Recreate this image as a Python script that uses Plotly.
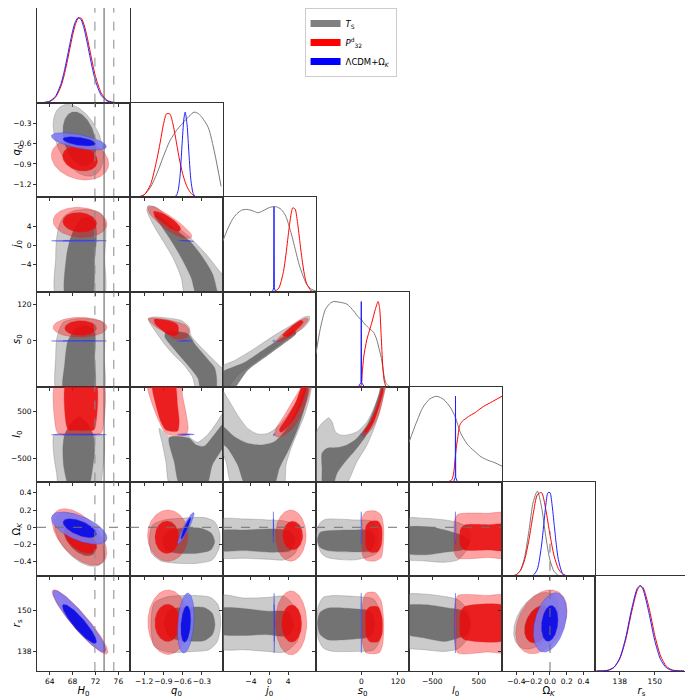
#!/usr/bin/env python3
"""
Triangle plot: T_S vs P^d_32 vs LCDM+Omega_K
Filled 68/95% regions off-diagonal, 1D marginals on the diagonal.
"""
import numpy as np
import plotly.graph_objects as go
from plotly.subplots import make_subplots

# === Parameters / axes ===
param_labels = ["<i>H</i><sub>0</sub>", "<i>q</i><sub>0</sub>", "<i>j</i><sub>0</sub>",
                "<i>s</i><sub>0</sub>", "<i>l</i><sub>0</sub>", "Ω<sub><i>K</i></sub>",
                "<i>r</i><sub>s</sub>"]
x_limits = [[61.78, 78.03], [-1.42, 0.03], [-10, 10], [-148, 156],
            [-1000, 1000], [-0.571, 0.536], [129.5, 161.4]]
y_limits = [[0, 1.11], [-1.394, 0.005], [-9.9, 10.2], [-149.2, 158.6],
            [-985, 1012], [-0.567, 0.529], [132.05, 160.3]]
tick_vals = [[64, 68, 72, 76], [-1.2, -0.9, -0.6, -0.3], [-4, 0, 4], [0, 120],
             [-500, 500], [-0.4, -0.2, 0, 0.2, 0.4], [138, 150]]
x_tick_text = [["64", "68", "72", "76"], ["−1.2", "−0.9", "−0.6", "−0.3"], ["−4", "0", "4"],
               ["0", "120"], ["−500", "500"], ["−0.4", "−0.2", "0.0", "0.2", "0.4"], ["138", "150"]]
y_tick_text = [[], ["−1.2", "−0.9", "−0.6", "−0.3"], ["−4", "0", "4"], ["0", "120"],
               ["−500", "500"], ["−0.4", "−0.2", "0", "0.2", "0.4"], ["138", "150"]]

# reference lines
H0_band = [71.9, 75.2]
H0_line = [73.5]
OmK_zero = [0.0]

# === 1D marginals (normalised to peak) ===
H0_x = [62, 63, 64, 65, 66, 66.5, 67, 67.5, 68, 68.5, 69, 69.5, 70, 70.5, 71, 71.5, 72, 73, 74, 75, 76, 77]
H0_red = [0.0003, 0.0025, 0.014, 0.062, 0.198, 0.314, 0.461, 0.627, 0.789, 0.919, 0.991, 0.99,
          0.915, 0.783, 0.62, 0.455, 0.309, 0.113, 0.03, 0.006, 0.001, 0.0]
H0_blue = [0.0004, 0.003, 0.018, 0.074, 0.228, 0.356, 0.512, 0.681, 0.838, 0.952, 0.999, 0.97,
           0.87, 0.721, 0.552, 0.391, 0.256, 0.086, 0.021, 0.004, 0.0005, 0.0]

q0_x = [-1.4, -1.3, -1.2, -1.1, -1.0, -0.95, -0.9, -0.85, -0.8, -0.75, -0.7, -0.65, -0.6,
        -0.55, -0.5, -0.45, -0.4, -0.35, -0.3, -0.2, -0.1, 0.0]
q0_red = [0.0, 0.003, 0.03, 0.15, 0.45, 0.64, 0.85, 0.98, 0.98, 0.86, 0.66, 0.45, 0.28,
          0.16, 0.08, 0.035, 0.012, 0.003, 0.0, 0.0, 0.0, 0.0]
q0_gray_x = [-1.4, -1.3, -1.2, -1.1, -1.0, -0.9, -0.8, -0.7, -0.6, -0.5, -0.42, -0.35, -0.3, -0.2, -0.1, 0.0]
q0_gray = [0.0, 0.005, 0.03, 0.12, 0.28, 0.48, 0.66, 0.78, 0.87, 0.95, 1.0, 0.98, 0.94, 0.82, 0.52, 0.13]
q0_blue_x = [-0.75, -0.7, -0.67, -0.64, -0.61, -0.58, -0.56, -0.53, -0.5, -0.47, -0.44, -0.41, -0.38]
q0_blue = [0.0, 0.02, 0.08, 0.25, 0.6, 0.92, 1.0, 0.85, 0.5, 0.2, 0.06, 0.01, 0.0]

j0_gray_x = [-10.1, -9, -8, -7, -6, -5, -4, -3, -2.5, -1.5, -0.5, 0.5, 1.5, 2.5, 3.5, 4.5, 5.0, 5.5, 6.5, 7.5, 8, 9, 10]
j0_gray = [0.59, 0.74, 0.85, 0.92, 0.96, 0.97, 0.96, 0.94, 0.93, 0.95, 0.98, 1.0, 1.0, 0.97, 0.89,
           0.72, 0.62, 0.51, 0.30, 0.15, 0.09, 0.035, 0.012]
j0_red_x = [-2, 0, 1, 2, 3, 3.5, 4, 4.5, 5, 5.5, 6, 6.5, 7, 7.5, 8, 9, 10]
j0_red = [0.0, 0.0, 0.005, 0.048, 0.24, 0.425, 0.653, 0.865, 0.988, 0.974, 0.827, 0.607, 0.384,
          0.209, 0.098, 0.014, 0.001]
j0_blue_x = [0.6, 0.9, 0.97, 1.04, 1.34]
j0_blue = [0.0, 0.05, 1.0, 0.05, 0.0]

s0_gray_x = [-148, -134, -117, -100, -90, -68, -47, -25, -8, 0, 8, 24, 40, 50, 60, 66, 73, 80, 90, 100, 156]
s0_gray = [0.39, 0.68, 0.91, 0.985, 1.0, 0.99, 0.97, 0.89, 0.81, 0.79, 0.75, 0.69, 0.64, 0.56,
           0.42, 0.33, 0.16, 0.05, 0.01, 0.0, 0.0]
s0_red_x = [-5, 0, 3, 8, 18, 35, 46, 55, 60, 65, 70, 75, 80, 85]
s0_red = [0.0, 0.02, 0.15, 0.35, 0.55, 0.76, 0.91, 1.0, 0.92, 0.6, 0.26, 0.07, 0.01, 0.0]
s0_blue_x = [-10, -1, 0, 1, 10]
s0_blue = [0.0, 0.05, 1.0, 0.05, 0.0]

l0_gray_x = [-1000, -850, -700, -550, -400, -250, -100, 0, 100, 250, 400, 550, 700, 850, 1000]
l0_gray = [0.46, 0.68, 0.87, 0.97, 1.0, 0.96, 0.86, 0.75, 0.58, 0.44, 0.36, 0.29, 0.25, 0.22, 0.18]
l0_red_x = [-150, -80, -40, 0, 20, 50, 75, 100, 150, 200, 300, 400, 500, 600, 700, 800, 900, 1000]
l0_red = [0.0, 0.02, 0.1, 0.31, 0.41, 0.52, 0.62, 0.67, 0.71, 0.73, 0.77, 0.8, 0.84, 0.88, 0.91, 0.94, 0.97, 1.0]
l0_blue_x = [-40, -4, 0, 4, 40]
l0_blue = [0.0, 0.05, 1.0, 0.05, 0.0]

OmK_x = [-0.55, -0.5, -0.45, -0.4, -0.35, -0.3, -0.25, -0.2, -0.15, -0.1, -0.05, 0.0, 0.05, 0.1,
         0.15, 0.2, 0.25, 0.3, 0.4, 0.5]
OmK_gray = [0.0, 0.0003, 0.0024, 0.016, 0.072, 0.233, 0.535, 0.869, 0.998, 0.811, 0.466, 0.19,
            0.055, 0.011, 0.0016, 0.0, 0.0, 0.0, 0.0, 0.0]
OmK_red = [0.0001, 0.0007, 0.0043, 0.02, 0.071, 0.198, 0.43, 0.726, 0.956, 0.98, 0.783, 0.487,
           0.236, 0.089, 0.026, 0.006, 0.001, 0.0, 0.0, 0.0]
OmK_blue_x = [-0.3, -0.25, -0.2, -0.15, -0.1, -0.075, -0.05, -0.025, 0.0, 0.025, 0.05, 0.075,
              0.1, 0.15, 0.2, 0.25, 0.3]
OmK_blue = [0.0, 0.0006, 0.01, 0.084, 0.366, 0.597, 0.829, 0.978, 0.981, 0.837, 0.607, 0.374,
            0.196, 0.033, 0.003, 0.0, 0.0]

rs_x = [130, 132, 134, 136, 138, 140, 142, 144, 145, 146, 148, 150, 152, 154, 156, 158, 160]
rs_red = [0.0002, 0.0014, 0.009, 0.042, 0.143, 0.362, 0.68, 0.947, 0.998, 0.976, 0.745, 0.42,
          0.176, 0.054, 0.0125, 0.002, 0.0003]
rs_blue = [0.0001, 0.0014, 0.009, 0.043, 0.151, 0.386, 0.716, 0.968, 1.0, 0.953, 0.683, 0.356,
           0.135, 0.037, 0.0075, 0.001, 0.0]

# === 2D credible regions ===
# ("E", cx, cy, rx, ry, rho) ellipse, ("P", [(x, y), ...]) outline
q0_H0 = {
    "g95": ("E", 69.0, -0.55, 4.4, 0.53, -0.42), "g68": ("E", 69.2, -0.53, 2.9, 0.40, -0.3),
    "r95": ("E", 69.3, -0.836, 5.0, 0.30, -0.2), "r68": ("E", 69.3, -0.82, 3.05, 0.185, -0.2),
    "b95": ("E", 69.1, -0.566, 4.8, 0.128, -0.6), "b68": ("E", 69.15, -0.566, 2.85, 0.07, -0.5),
}
j0_H0 = {
    "g95": ("P", [(65.16, -11), (65.05, -2.55), (65.16, 0.99), (65.6, 4.0), (66.6, 6.3), (68.4, 7.4),
                  (71.0, 7.6), (73.0, 6.8), (73.78, 4.5), (73.78, 0.99), (73.6, -2.55), (73.43, -11)]),
    "g68": ("P", [(66.8, -11), (66.91, -2.55), (67.5, 0.99), (68.3, 3.5), (69.5, 5.6), (71.0, 5.9),
                  (72.0, 4.5), (72.15, 0.99), (71.86, -2.55), (71.3, -11)]),
    "r95": ("E", 69.3, 4.9, 4.7, 3.2, -0.1), "r68": ("E", 69.25, 4.9, 2.95, 2.1, -0.1),
    "b95": ("E", 69.1, 1.0, 4.8, 0.15, 0.0), "b68": ("E", 69.15, 1.0, 2.85, 0.07, 0.0),
}
s0_H0 = {
    "g95": ("P", [(65.28, -165), (65.05, -53), (65.28, 11.9), (66.33, 60), (68.37, 71.4), (71.28, 71.4),
                  (73.2, 62), (73.61, 33.5), (73.55, -53), (73.32, -165)]),
    "g68": ("P", [(66.45, -165), (66.62, -74.6), (67.2, 1.1), (68.6, 40), (70.4, 49), (71.8, 35),
                  (71.86, -53), (71.69, -165)]),
    "r95": ("E", 69.3, 44.3, 4.7, 32.4, 0.0), "r68": ("E", 69.4, 41.6, 2.77, 24.3, 0.0),
    "b95": ("E", 69.1, 0.0, 4.8, 1.6, 0.0), "b68": ("E", 69.15, 0.0, 2.85, 0.8, 0.0),
}
l0_H0 = {
    "g95": ("P", [(64.75, 0), (67.0, 20), (72.0, 20), (73.4, 0), (73.55, -400), (73.2, -800),
                  (72.7, -1100), (65.7, -1100), (65.2, -800), (64.7, -400)]),
    "g68": ("P", [(67.5, -1100), (66.5, -700), (66.3, -300), (66.6, 0), (67.8, 250), (69.2, 380),
                  (70.5, 250), (71.6, 0), (71.86, -300), (71.5, -700), (70.7, -1100)]),
    "r95": ("P", [(65.05, 1100), (65.05, 150), (65.4, 40), (66.2, 5), (72.2, 5), (73.0, 40),
                  (73.32, 150), (73.32, 1100)]),
    "r68": ("P", [(66.91, 1100), (66.91, 200), (67.3, 100), (68.0, 90), (71.0, 90), (71.7, 100),
                  (72.03, 200), (72.03, 1100)]),
    "b95": ("E", 69.1, 3, 4.8, 12, 0.0), "b68": ("E", 69.15, 3, 2.85, 6, 0.0),
}
OmK_H0 = {
    "g95": ("E", 69.24, -0.142, 4.37, 0.31, -0.55), "g68": ("E", 69.3, -0.14, 2.8, 0.19, -0.5),
    "r95": ("E", 69.2, -0.112, 4.77, 0.327, -0.55), "r68": ("E", 69.4, -0.14, 2.83, 0.163, -0.5),
    "b95": ("E", 69.15, -0.01, 4.85, 0.187, -0.6), "b68": ("E", 69.24, -0.01, 2.91, 0.11, -0.6),
}
rs_H0 = {
    "r95": ("E", 69.3, 146.7, 4.86, 9.6, -0.93), "r68": ("E", 69.2, 146.1, 2.97, 5.85, -0.9),
    "b95": ("E", 69.18, 146.9, 4.6, 9.2, -0.93), "b68": ("E", 69.2, 146.1, 2.97, 5.85, -0.9),
}
j0_q0 = {
    "g95": ("P", [(-1.14, 8.42), (-1.011, 8.07), (-0.70, 4.18), (-0.441, 1.13), (-0.234, -1.84),
                  (-0.027, -5.38), (0.05, -6.79), (0.05, -11), (-0.544, -11), (-0.622, -6.79),
                  (-0.752, -2.55), (-0.907, 0.99), (-1.062, 4.53), (-1.155, 7.36)]),
    "g68": ("P", [(-1.011, 6.65), (-0.752, 3.82), (-0.493, 0.99), (-0.286, -2.55), (-0.131, -6.09),
                  (-0.053, -10.1), (-0.027, -11), (-0.363, -11), (-0.467, -6.79), (-0.622, -2.55),
                  (-0.777, 0.99), (-0.933, 4.18), (-1.037, 6.3)]),
    "r95": ("P", [(-1.14, 8.07), (-1.062, 8.28), (-0.855, 6.79), (-0.622, 4.53), (-0.467, 2.41),
                  (-0.462, 1.70), (-0.596, 1.56), (-0.803, 2.97), (-0.985, 4.88), (-1.114, 6.79)]),
    "r68": ("P", [(-1.052, 7.22), (-0.907, 6.79), (-0.726, 5.24), (-0.632, 3.68), (-0.658, 2.97),
                  (-0.793, 3.68), (-0.933, 5.1), (-1.026, 6.09)]),
    "b95": ("E", -0.55, 0.99, 0.125, 0.14, -0.9), "b68": ("E", -0.55, 0.99, 0.07, 0.07, -0.9),
}
s0_q0 = {
    "g95": ("P", [(-1.135, 72.3), (-1.068, 77.7), (-0.886, 75.6), (-0.628, 66.9), (-0.498, 45.3),
                  (-0.472, 18.3), (-0.343, -14.0), (-0.162, -52), (-0.032, -79), (0.045, -95.1),
                  (0.045, -165), (-0.369, -165), (-0.446, -116.8), (-0.576, -79), (-0.731, -46.6),
                  (-0.886, -8.8), (-1.016, 29.1), (-1.119, 61.5)]),
    "g68": ("P", [(-0.86, 29.1), (-0.524, 23.7), (-0.395, -14.0), (-0.24, -52), (-0.1, -87.7),
                  (-0.069, -122.2), (-0.089, -165), (-0.307, -165), (-0.358, -122.2), (-0.472, -89.8),
                  (-0.628, -52), (-0.783, -14.0), (-0.876, 12.9)]),
    "r95": ("P", [(-1.135, 72.3), (-1.068, 74.5), (-0.783, 66.9), (-0.55, 50.7), (-0.498, 34.5),
                  (-0.524, 12.9), (-0.628, 5.3), (-0.731, 7.5), (-0.886, 29.1), (-1.016, 45.3),
                  (-1.104, 61.5)]),
    "r68": ("P", [(-1.042, 70.2), (-0.835, 66.9), (-0.679, 52.9), (-0.669, 23.7), (-0.731, 16.1),
                  (-0.845, 23.7), (-0.964, 42.1), (-1.031, 56.1)]),
    "b95": ("E", -0.568, 0.0, 0.122, 1.6, 0.0), "b68": ("E", -0.568, 0.0, 0.07, 0.8, 0.0),
}
l0_q0 = {
    "g95": ("P", [(-0.964, 136), (-0.809, -38), (-0.524, -3.5), (-0.472, -73), (-0.369, -157),
                  (-0.214, -3.5), (-0.059, 276), (0.045, 472), (0.045, -1100), (-0.783, -1100),
                  (-0.86, -563), (-0.912, -206)]),
    "g68": ("P", [(-0.809, -60), (-0.498, -73), (-0.395, -206), (-0.265, -241), (-0.11, -3.5),
                  (0.045, 241), (0.045, -206), (-0.136, -633), (-0.24, -1100), (-0.628, -1100),
                  (-0.731, -563)]),
    "r95": ("P", [(-1.145, 1100), (-1.068, 626), (-0.964, 276), (-0.886, 66), (-0.809, -3.5),
                  (-0.55, -3.5), (-0.514, 136), (-0.55, 486), (-0.602, 836), (-0.628, 1100)]),
    "r68": ("P", [(-1.068, 1100), (-1.016, 626), (-0.938, 276), (-0.86, 101), (-0.679, 80),
                  (-0.653, 276), (-0.679, 626), (-0.731, 1100)]),
    "b95": ("E", -0.55, 10, 0.13, 12, 0.0), "b68": ("E", -0.55, 10, 0.07, 6, 0.0),
}
OmK_q0 = {
    "g95": ("P", [(-1.119, -0.146), (-1.068, 0.027), (-0.886, 0.085), (-0.628, 0.104), (-0.265, 0.112),
                  (-0.1, 0.065), (-0.022, -0.069), (-0.032, -0.242), (-0.136, -0.377), (-0.369, -0.416),
                  (-0.679, -0.416), (-0.938, -0.389), (-1.083, -0.3)]),
    "g68": ("P", [(-0.912, -0.146), (-0.835, -0.05), (-0.628, -0.012), (-0.317, -0.012), (-0.151, -0.069),
                  (-0.1, -0.166), (-0.162, -0.262), (-0.369, -0.3), (-0.679, -0.3), (-0.86, -0.262)]),
    "r95": ("E", -0.83, -0.096, 0.316, 0.296, 0.0), "r68": ("E", -0.845, -0.115, 0.186, 0.189, 0.0),
    "b95": ("E", -0.55, -0.012, 0.129, 0.183, 0.93), "b68": ("E", -0.55, -0.012, 0.078, 0.123, 0.93),
}
rs_q0 = {
    "g95": ("P", [(-1.093, 146.35), (-1.042, 152.3), (-0.835, 154.18), (-0.42, 154.57), (-0.162, 153.98),
                  (-0.048, 151.8), (-0.006, 146.35), (-0.059, 140.88), (-0.188, 138.4), (-0.42, 137.9),
                  (-0.835, 137.7), (-1.042, 139.4)]),
    "g68": ("P", [(-0.886, 146.35), (-0.809, 150.3), (-0.576, 151.0), (-0.265, 151.0), (-0.136, 149.3),
                  (-0.095, 145.85), (-0.136, 142.87), (-0.265, 141.1), (-0.576, 141.1), (-0.809, 142.1)]),
    "r95": ("E", -0.824, 146.6, 0.316, 9.6, 0.0), "r68": ("E", -0.835, 146.4, 0.197, 5.56, 0.0),
    "b95": ("E", -0.55, 146.35, 0.129, 8.93, 0.25), "b68": ("E", -0.55, 146.05, 0.078, 5.46, 0.25),
}
s0_j0 = {
    "g95": ("P", [(-10.4, -85), (-7.56, -64), (-3.25, -25), (1.05, 18.3), (4.63, 50.7), (7.5, 77.7),
                  (8.57, 79.9), (8.57, 66.9), (7.5, 45.3), (4.63, 16.1), (1.05, -22.6), (-3.25, -70.2),
                  (-6.84, -111.4), (-9.71, -165), (-10.4, -165)]),
    "g68": ("P", [(-10.4, -105), (-5.41, -70.2), (-0.39, -19.6), (3.2, 16.1), (5.35, 34.5), (5.71, 23.7),
                  (3.2, -6.6), (-0.39, -46.6), (-4.69, -95.1), (-8.27, -165), (-10.4, -165)]),
    "r95": ("P", [(1.41, -1.3), (3.2, 29.1), (6.07, 61.5), (7.86, 74.5), (8.36, 70.2), (7.14, 45.3),
                  (4.99, 18.3), (2.48, -1.3)]),
    "r68": ("P", [(2.84, 18.3), (4.63, 45.3), (6.78, 66.9), (7.28, 61.5), (5.71, 34.5), (3.91, 12.9)]),
    "b95": ("E", 1.0, 0.0, 0.3, 2.0, 0.0),
}
l0_j0 = {
    "g95": ("P", [(-10.42, 976), (-8.99, 766), (-6.84, 416), (-4.69, 136), (-2.54, 17), (-0.39, 31),
                  (1.76, 171), (3.91, 416), (5.71, 697), (7.14, 1011), (8.93, 1046), (8.57, 766),
                  (7.5, 416), (6.07, 66), (4.63, -283), (3.55, -633), (2.91, -1100), (-7.84, -1100),
                  (-9.35, -563), (-10.42, -283)]),
    "g68": ("P", [(-10.5, 206), (-7.56, -38), (-4.69, -178), (-1.82, -213), (1.05, -143), (3.2, 66),
                  (4.99, 346), (6.43, 661), (7.5, 976), (8.36, 976), (7.5, 556), (6.07, 136),
                  (4.27, -283), (2.12, -703), (0.76, -1100), (-4.9, -1100), (-6.84, -633),
                  (-8.99, -283), (-10.5, -143)]),
    "r95": ("P", [(1.05, -3.5), (1.41, 136), (3.2, 416), (5.35, 766), (6.78, 1011), (6.78, 1080),
                  (8.78, 1080), (8.21, 766), (6.78, 416), (4.99, 136), (3.2, -3.5), (1.76, -45)]),
    "r68": ("P", [(2.12, 101), (3.91, 381), (5.71, 697), (7.14, 1046), (7.99, 1046), (7.14, 697),
                  (5.35, 346), (3.55, 136), (2.48, 52)]),
    "b95": ("E", 1.0, 5, 0.25, 20, 0.5),
}
OmK_j0 = {
    "g95": ("P", [(-11, 0.085), (-5.41, 0.096), (-0.39, 0.085), (3.2, 0.073), (5.5, 0.03), (6.5, -0.1),
                  (5.5, -0.3), (3.2, -0.377), (-0.39, -0.369), (-5.41, -0.358), (-11, -0.339)]),
    "g68": ("P", [(-11, -0.05), (-5.41, -0.031), (1.05, -0.02), (4.5, -0.05), (5.5, -0.15), (4.5, -0.27),
                  (1.05, -0.289), (-5.41, -0.27), (-11, -0.262)]),
    "r95": ("E", 4.56, -0.096, 3.3, 0.296, 0.0), "r68": ("E", 4.99, -0.096, 2.15, 0.166, 0.0),
    "b95": ("E", 0.83, 0.0, 0.08, 0.18, 0.0), "b68": ("E", 0.83, 0.0, 0.04, 0.1, 0.0),
}
rs_j0 = {
    "g95": ("P", [(-11, 154.5), (-5.41, 153.8), (-0.39, 154.0), (3.2, 154.3), (6.0, 150), (6.5, 146),
                  (6.0, 141), (3.2, 137.7), (-0.39, 137.9), (-5.41, 138.4), (-11, 138.9)]),
    "g68": ("P", [(-11, 150.5), (-0.39, 149.9), (4.0, 149.6), (5.2, 146), (4.0, 142.6), (-0.39, 142.9),
                  (-11, 143.4)]),
    "r95": ("E", 4.63, 146.4, 3.37, 9.52, 0.0), "r68": ("E", 4.77, 146.2, 2.15, 5.56, 0.0),
    "b95": ("E", 1.0, 146.35, 0.1, 8.9, 0.0), "b68": ("E", 1.0, 146.35, 0.06, 5.5, 0.0),
}
l0_s0 = {
    "g95": ("P", [(-155, -73), (-133.7, 206), (-117.4, 311), (-106.5, 360), (-95.6, 276), (-84.7, 66),
                  (-68.3, -3.5), (-46.6, -3.5), (-13.9, 66), (18.8, 276), (40.6, 556), (57, 836),
                  (65.8, 1046), (81, 1046), (75.5, 906), (62.4, 556), (46, 206), (18.8, -213),
                  (-13.9, -563), (-57.4, -1100), (-155, -1100)]),
    "g68": ("P", [(-128.3, -388), (-111.9, -283), (-79.2, -269), (-46.6, -213), (-13.9, -73), (18.8, 206),
                  (40.6, 521), (57, 836), (67.9, 1032), (73.3, 1011), (60.2, 696), (40.6, 276),
                  (13.3, -38), (-19.4, -318), (-52.1, -563), (-79.2, -808), (-95.6, -1100),
                  (-125, -1100), (-128.3, -703)]),
    "r95": ("P", [(2.5, -3.5), (29.7, 276), (51.5, 626), (62.4, 906), (66.8, 1060), (77.7, 1060),
                  (71.1, 766), (57, 416), (35.1, 136), (7.9, -38)]),
    "r68": ("P", [(7.9, 52), (29.7, 276), (51.5, 591), (62.4, 836), (67.9, 976), (72.2, 941),
                  (60.2, 626), (40.6, 276), (18.8, 66)]),
    "b95": ("E", 0.0, 10, 3, 20, 0.5),
}
OmK_s0 = {
    "g95": ("P", [(-146, -0.1), (-140, 0.02), (-125, 0.08), (-109.8, 0.096), (-22.6, 0.085), (31.9, 0.073),
                  (50, 0.0), (55, -0.15), (50, -0.3), (-22.6, -0.377), (-109.8, -0.351), (-130, -0.3),
                  (-142, -0.2)]),
    "g68": ("P", [(-143, -0.14), (-135, -0.06), (-110, -0.04), (-22.6, -0.031), (30, -0.04), (45, -0.14),
                  (30, -0.27), (-22.6, -0.285), (-110, -0.27), (-135, -0.23)]),
    "r95": ("P", [(2, -0.1), (4, 0.12), (15, 0.18), (45, 0.19), (65, 0.14), (73, 0.0), (72, -0.2),
                  (65, -0.35), (45, -0.39), (15, -0.38), (4, -0.32)]),
    "r68": ("P", [(13.4, -0.1), (16, 0.02), (30, 0.07), (55, 0.07), (66.8, 0.0), (66, -0.2), (55, -0.28),
                  (30, -0.29), (16, -0.24)]),
    "b95": ("E", 0.0, -0.005, 1.5, 0.185, 0.0),
}
rs_s0 = {
    "g95": ("P", [(-146, 146.35), (-140, 151.5), (-125, 154.0), (-100, 154.5), (-22.6, 154.3), (40, 153.5),
                  (60, 150), (65, 146), (60, 141), (40, 138.3), (-22.6, 137.9), (-100, 138.0),
                  (-125, 139.0), (-140, 141.5)]),
    "g68": ("P", [(-143, 146.35), (-135, 149.5), (-110, 150.8), (-22.6, 150.6), (30, 149.8), (45, 146),
                  (30, 142.4), (-22.6, 141.6), (-110, 141.4), (-135, 143)]),
    "r95": ("P", [(2, 146), (4, 152), (15, 155.2), (45, 155.5), (65, 153), (73, 147), (70, 140),
                  (60, 137.6), (40, 137.2), (15, 137.5), (4, 140.5)]),
    "r68": ("P", [(13.5, 146), (16, 150), (28, 151.2), (55, 151.2), (68, 148), (68, 143), (55, 140.8),
                  (28, 140.8), (16, 142.5)]),
    "b95": ("E", 0.0, 146.35, 1.5, 8.9, 0.0),
}
OmK_l0 = {
    "g95": ("P", [(-1100, 0.096), (-662, 0.104), (-232, 0.085), (54, 0.054), (250, 0.0), (320, -0.1),
                  (250, -0.25), (54, -0.377), (-232, -0.404), (-662, -0.389), (-1100, -0.358)]),
    "g68": ("P", [(-1100, -0.012), (-662, 0.008), (-232, -0.031), (198, -0.108), (305, -0.166),
                  (198, -0.25), (-232, -0.289), (-662, -0.319), (-1100, -0.289)]),
    "r95": ("P", [(-32, -0.1), (-20, 0.08), (54, 0.15), (700, 0.162), (1100, 0.162), (1100, -0.35),
                  (700, -0.35), (54, -0.358), (-20, -0.3)]),
    "r68": ("P", [(90, -0.12), (110, -0.02), (198, 0.027), (700, 0.03), (1100, 0.03), (1100, -0.262),
                  (700, -0.262), (198, -0.262), (110, -0.22)]),
    "b95": ("E", 0.0, -0.005, 10, 0.185, 0.0),
}
rs_l0 = {
    "g95": ("P", [(-1100, 154.57), (-662, 154.97), (-232, 154.28), (54, 153.29), (250, 150.5), (320, 146.35),
                  (250, 141.5), (54, 138.7), (-232, 137.9), (-662, 138.4), (-1100, 139.4)]),
    "g68": ("P", [(-1100, 151.3), (-662, 151.8), (-232, 151.0), (198, 149.8), (320, 146.84), (250, 143.0),
                  (54, 141.88), (-232, 140.88), (-662, 141.88), (-1100, 143.37)]),
    "r95": ("P", [(-32, 146.35), (-15, 151.5), (54, 154.57), (700, 154.57), (1100, 154.57), (1100, 137.7),
                  (700, 137.7), (54, 137.4), (-15, 140.5)]),
    "r68": ("P", [(90, 146.35), (110, 149.8), (198, 151.3), (1100, 151.3), (1100, 141.4), (198, 141.4),
                  (110, 142.5)]),
    "b95": ("E", 0.0, 146.35, 10, 8.9, 0.0),
}
rs_OmK = {
    "g95": ("E", -0.162, 147.03, 0.27, 8.43, 0.4), "g68": ("E", -0.142, 146.2, 0.16, 5.4, 0.35),
    "r95": ("E", -0.102, 146.74, 0.306, 9.52, 0.35), "r68": ("E", -0.142, 145.84, 0.159, 5.46, 0.3),
    "b95": ("E", 0.0, 146.54, 0.198, 8.83, 0.35), "b68": ("E", -0.003, 146.24, 0.099, 5.36, 0.2),
}

# (row, col) -> contours, row = y parameter, col = x parameter
panels = {
    (1, 0): q0_H0, (2, 0): j0_H0, (3, 0): s0_H0, (4, 0): l0_H0, (5, 0): OmK_H0, (6, 0): rs_H0,
    (2, 1): j0_q0, (3, 1): s0_q0, (4, 1): l0_q0, (5, 1): OmK_q0, (6, 1): rs_q0,
    (3, 2): s0_j0, (4, 2): l0_j0, (5, 2): OmK_j0, (6, 2): rs_j0,
    (4, 3): l0_s0, (5, 3): OmK_s0, (6, 3): rs_s0,
    (5, 4): OmK_l0, (6, 4): rs_l0,
    (6, 5): rs_OmK,
}
diag_curves = {
    0: [("r", H0_x, H0_red, "spline"), ("b", H0_x, H0_blue, "spline")],
    1: [("g", q0_gray_x, q0_gray, "spline"), ("r", q0_x, q0_red, "spline"), ("b", q0_blue_x, q0_blue, "spline")],
    2: [("g", j0_gray_x, j0_gray, "spline"), ("r", j0_red_x, j0_red, "spline"), ("b", j0_blue_x, j0_blue, "linear")],
    3: [("g", s0_gray_x, s0_gray, "spline"), ("r", s0_red_x, s0_red, "spline"), ("b", s0_blue_x, s0_blue, "linear")],
    4: [("g", l0_gray_x, l0_gray, "spline"), ("r", l0_red_x, l0_red, "spline"), ("b", l0_blue_x, l0_blue, "linear")],
    5: [("g", OmK_x, OmK_gray, "spline"), ("r", OmK_x, OmK_red, "spline"), ("b", OmK_blue_x, OmK_blue, "spline")],
    6: [("r", rs_x, rs_red, "spline"), ("b", rs_x, rs_blue, "spline")],
}

FILL = {"g95": "rgba(140,140,140,0.45)", "g68": "rgba(80,80,80,0.72)",
        "r95": "rgba(250,0,0,0.36)", "r68": "rgba(232,12,12,0.88)",
        "b95": "rgba(120,120,245,0.85)", "b68": "rgba(10,10,230,0.92)"}
EDGE = {"g": "rgba(110,110,110,0.55)", "r": "rgba(220,40,40,0.45)", "b": "rgba(60,60,220,0.6)"}
LINE = {"g": "#7a7a7a", "r": "#ff0000", "b": "#2020ff"}
ORDER = ["g95", "g68", "r95", "r68", "b95", "b68"]


def outline(spec):
    if spec[0] == "E":
        _, cx, cy, rx, ry, rho = spec
        t = np.linspace(0, 2 * np.pi, 120)
        xs = cx + rx * np.cos(t)
        ys = cy + ry * (rho * np.cos(t) + np.sqrt(1 - rho ** 2) * np.sin(t))
        return list(xs), list(ys), "linear"
    pts = spec[1] + [spec[1][0]]
    return [p[0] for p in pts], [p[1] for p in pts], "spline"


fig = make_subplots(rows=7, cols=7, horizontal_spacing=0, vertical_spacing=0)

# === filled regions ===
for (r, c), panel in panels.items():
    for key in ORDER:
        if key not in panel:
            continue
        xs, ys, shape = outline(panel[key])
        fig.add_trace(go.Scatter(x=xs, y=ys, mode="lines", fill="toself", fillcolor=FILL[key],
                                 line=dict(color=EDGE[key[0]], width=0.6, shape=shape, smoothing=0.7),
                                 hoverinfo="skip", showlegend=False), row=r + 1, col=c + 1)

# === 1D marginals ===
for i, curves in diag_curves.items():
    for col, xs, ys, shape in curves:
        fig.add_trace(go.Scatter(x=xs, y=ys, mode="lines",
                                 line=dict(color=LINE[col], width=1, shape=shape, smoothing=0.7),
                                 hoverinfo="skip", showlegend=False), row=i + 1, col=i + 1)

# === reference lines ===
for r in range(7):
    lo, hi = y_limits[r]
    for v in H0_band:
        fig.add_trace(go.Scatter(x=[v, v], y=[lo, hi], mode="lines",
                                 line=dict(color="#8a8a8a", width=1, dash="dash"),
                                 hoverinfo="skip", showlegend=False), row=r + 1, col=1)
    for v in H0_line:
        fig.add_trace(go.Scatter(x=[v, v], y=[lo, hi], mode="lines",
                                 line=dict(color="#555555", width=1),
                                 hoverinfo="skip", showlegend=False), row=r + 1, col=1)
for c in range(5):
    for v in OmK_zero:
        fig.add_trace(go.Scatter(x=x_limits[c], y=[v, v], mode="lines",
                                 line=dict(color="#707070", width=1, dash="dash"),
                                 hoverinfo="skip", showlegend=False), row=6, col=c + 1)
for r in (5, 6):
    for v in OmK_zero:
        fig.add_trace(go.Scatter(x=[v, v], y=y_limits[r], mode="lines",
                                 line=dict(color="#707070", width=1, dash="dash"),
                                 hoverinfo="skip", showlegend=False), row=r + 1, col=6)

# === legend entries ===
legend_items = [("<i>T</i><sub>S</sub>", "#808080"),
                ("<i>P</i><sup>d</sup><sub>32</sub>", "#ff0000"),
                ("ΛCDM+Ω<sub><i>K</i></sub>", "#0000ff")]
for name, colr in legend_items:
    fig.add_trace(go.Scatter(x=[None], y=[None], mode="lines", name=name,
                             line=dict(color=colr, width=7)), row=1, col=1)

# === axes ===
axis_style = dict(showline=True, mirror=True, linecolor="#333333", linewidth=1,
                  ticks="outside", ticklen=3, tickwidth=1, tickcolor="#333333",
                  showgrid=False, zeroline=False, automargin=False, tickangle=0,
                  tickfont=dict(size=7.5, color="black"),
                  title_font=dict(size=10, color="black"))
for r in range(7):
    for c in range(7):
        if c > r:
            fig.update_xaxes(visible=False, automargin=False, row=r + 1, col=c + 1)
            fig.update_yaxes(visible=False, automargin=False, row=r + 1, col=c + 1)
            continue
        fig.update_xaxes(range=x_limits[c], tickvals=tick_vals[c], ticktext=x_tick_text[c],
                         showticklabels=(r == 6), **axis_style, row=r + 1, col=c + 1)
        if r == 6:
            fig.update_xaxes(title_text=param_labels[c], title_standoff=2, row=r + 1, col=c + 1)
        if c == r:
            fig.update_yaxes(range=y_limits[0], showline=True, mirror=True, linecolor="#333333",
                             linewidth=1, ticks="", showticklabels=False, showgrid=False,
                             zeroline=False, automargin=False, row=r + 1, col=c + 1)
        else:
            fig.update_yaxes(range=y_limits[r], tickvals=tick_vals[r], ticktext=y_tick_text[r],
                             showticklabels=(c == 0), **axis_style, row=r + 1, col=c + 1)

# y labels of the left column, placed at the figure's left edge
for r in range(1, 7):
    dom = fig.get_subplot(r + 1, 1).yaxis.domain
    fig.add_annotation(text=param_labels[r], xref="paper", yref="paper",
                       x=-0.043, y=(dom[0] + dom[1]) / 2, textangle=-90,
                       xanchor="left", yanchor="middle", showarrow=False,
                       font=dict(size=10, color="black"))

# page body adds an 8 px offset, so the figure is sized to land on the window
fig.update_layout(
    width=685, height=690,
    margin=dict(l=29, r=5, t=0, b=27),
    plot_bgcolor="white", paper_bgcolor="white",
    font=dict(family="DejaVu Sans", size=9, color="black"),
    hovermode=False,
    showlegend=True,
    legend=dict(x=0.411, y=1.0, xanchor="left", yanchor="top", bgcolor="white",
                bordercolor="#cccccc", borderwidth=1, font=dict(size=8.5), itemwidth=30,
                tracegroupgap=0),
)

fig.write_html("out.html")
